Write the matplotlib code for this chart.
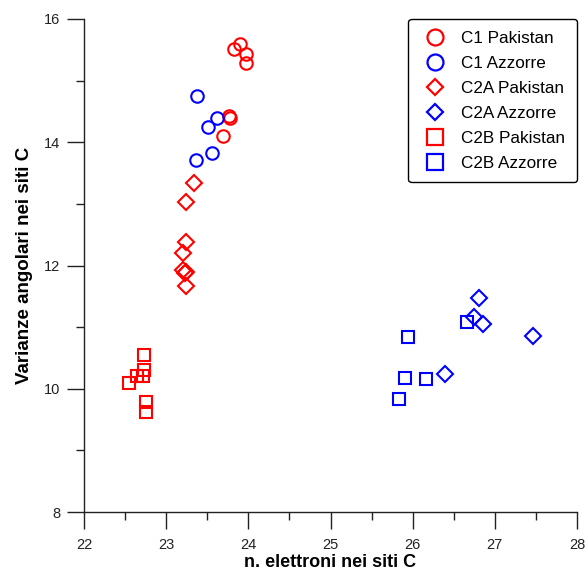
import matplotlib
matplotlib.use("Agg")
import matplotlib.pyplot as plt
from matplotlib.ticker import MultipleLocator

plt.rcParams['font.family'] = ['Liberation Sans', 'DejaVu Sans']

c1_pak_x = [23.83, 23.90, 23.97, 23.97, 23.76, 23.78, 23.69]
c1_pak_y = [15.52, 15.59, 15.44, 15.28, 14.43, 14.40, 14.10]
c1_azz_x = [23.37, 23.62, 23.51, 23.56, 23.36]
c1_azz_y = [14.75, 14.40, 14.25, 13.83, 13.71]
c2a_pak_x = [23.34, 23.24, 23.24, 23.21, 23.21, 23.24, 23.23, 23.24]
c2a_pak_y = [13.34, 13.03, 12.38, 12.20, 11.92, 11.90, 11.88, 11.66]
c2a_azz_x = [26.81, 26.75, 26.85, 27.47, 26.39]
c2a_azz_y = [11.47, 11.17, 11.05, 10.85, 10.24]
c2b_pak_x = [22.73, 22.73, 22.72, 22.65, 22.55, 22.75, 22.75]
c2b_pak_y = [10.55, 10.30, 10.20, 10.20, 10.09, 9.79, 9.62]
c2b_azz_x = [26.66, 25.94, 25.91, 26.16, 25.83]
c2b_azz_y = [11.08, 10.84, 10.18, 10.16, 9.83]

fig = plt.figure(figsize=(5.85, 5.71), dpi=100)
ax = fig.add_axes([84/585, 1-512/571, (577-84)/585, (512-19)/571])

series = [
    (c1_pak_x, c1_pak_y, 'o', 'red', 'C1 Pakistan', 9),
    (c1_azz_x, c1_azz_y, 'o', 'blue', 'C1 Azzorre', 9),
    (c2a_pak_x, c2a_pak_y, 'D', 'red', 'C2A Pakistan', 8.5),
    (c2a_azz_x, c2a_azz_y, 'D', 'blue', 'C2A Azzorre', 8.5),
    (c2b_pak_x, c2b_pak_y, 's', 'red', 'C2B Pakistan', 8.5),
    (c2b_azz_x, c2b_azz_y, 's', 'blue', 'C2B Azzorre', 8.5),
]
for x, y, m, c, lab, ms in series:
    ax.plot(x, y, linestyle='none', marker=m, markerfacecolor='none',
            markeredgecolor=c, markeredgewidth=1.5, markersize=ms, label=lab)

ax.set_xlim(22, 28)
ax.set_ylim(8, 16)
ax.xaxis.set_major_locator(MultipleLocator(1))
ax.xaxis.set_minor_locator(MultipleLocator(0.5))
ax.yaxis.set_major_locator(MultipleLocator(2))
ax.yaxis.set_minor_locator(MultipleLocator(1))
ax.spines['top'].set_visible(False)
ax.spines['right'].set_visible(False)
for s in ('left', 'bottom'):
    ax.spines[s].set_linewidth(1.0)
    ax.spines[s].set_color('#222222')
ax.tick_params(which='major', direction='out', length=12, width=1.0, colors='#222222', labelsize=10.5)
ax.tick_params(which='minor', direction='out', length=6, width=1.0, colors='#222222')
ax.tick_params(axis='x', which='major', pad=7)
ax.tick_params(axis='y', which='major', pad=5)

ax.set_xlabel('n. elettroni nei siti C', fontsize=13, fontweight='bold', labelpad=1.5)
ax.set_ylabel('Varianze angolari nei siti C', fontsize=13.5, fontweight='bold', labelpad=8)

leg = ax.legend(loc='upper right', bbox_to_anchor=(1.0, 1.0), fontsize=12.3,
                frameon=True, fancybox=True, edgecolor='black', framealpha=1,
                handletextpad=0.6, borderpad=0.7, labelspacing=0.58,
                handlelength=1.8, borderaxespad=0.0)
leg.get_frame().set_linewidth(1.0)
legend_sizes = {'o': 11.5, 'D': 7.8, 's': 12}
for h, (_, _, m, _, _, _) in zip(leg.legend_handles, series):
    h.set_markersize(legend_sizes[m])
    h.set_markeredgewidth(1.6)

fig.savefig('out.png', dpi=100)
